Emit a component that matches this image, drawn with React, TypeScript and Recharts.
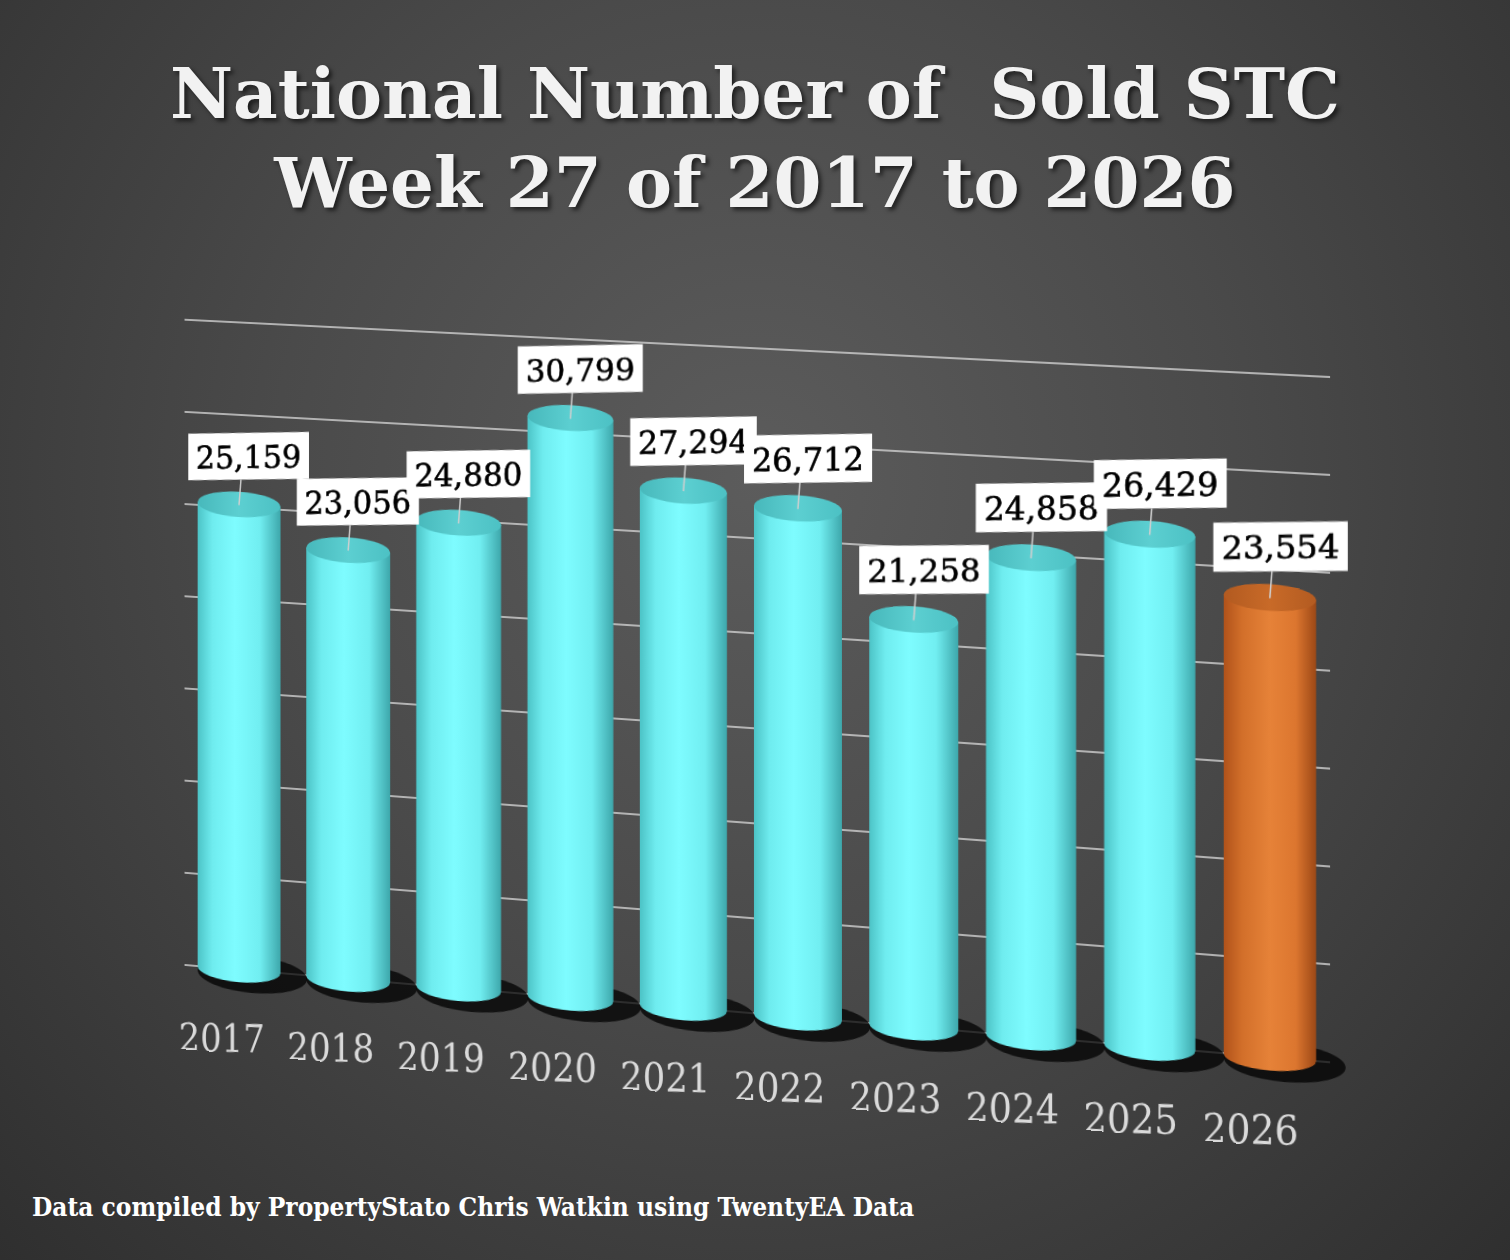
import { BarChart, Bar, XAxis, YAxis, CartesianGrid, Cell, LabelList } from "recharts";

const years = ["2017", "2018", "2019", "2020", "2021", "2022", "2023", "2024", "2025", "2026"];
const soldStc = [25159, 23056, 24880, 30799, 27294, 26712, 21258, 24858, 26429, 23554];
const highlightYear = "2026";
const yTicks = [0, 5000, 10000, 15000, 20000, 25000, 30000, 35000];

const data = years.map((year, i) => ({ year, value: soldStc[i] }));

// the whole plot is sheared and turned a little to mimic the tilted 3D view
const SKEW = 3.9;
const TURN = 6;

// undo the shear around a point so texts stay upright
const upright = (x: number, y: number) =>
  `translate(${x} ${y}) skewY(${-SKEW}) translate(${-x} ${-y})`;

const Cylinder = (props: any) => {
  const { x, y, width, height, fill } = props;
  const orange = fill === "orange";
  const rx = width / 2;
  const ry = 13;
  const cx = x + rx;
  const yb = y + height;
  return (
    <g>
      <ellipse cx={cx + 14} cy={yb + 4} rx={rx + 14} ry={ry + 6} fill="#000" opacity={0.75} />
      <path
        d={`M ${x} ${y} L ${x} ${yb} A ${rx} ${ry} 0 0 0 ${x + width} ${yb} L ${x + width} ${y} Z`}
        fill={orange ? "url(#orangeBody)" : "url(#cyanBody)"}
      />
      <ellipse cx={cx} cy={y} rx={rx} ry={ry} fill={orange ? "url(#orangeTop)" : "url(#cyanTop)"} />
    </g>
  );
};

const ValueTag = (props: any) => {
  const { x, y, width, value } = props;
  const cx = x + width / 2;
  const tx = cx + 10;
  const ty = y - 50;
  const w = 128;
  const h = 48;
  return (
    <g transform={upright(tx, ty)}>
      <line x1={cx} y1={y} x2={tx - 8} y2={ty + h / 2} stroke="#cfcfcf" strokeWidth={1.5} />
      <rect x={tx - w / 2} y={ty - h / 2} width={w} height={h} fill="#fff" />
      <text
        x={tx}
        y={ty + 12}
        textAnchor="middle"
        fontFamily="DejaVu Serif"
        fontSize={32}
        fill="#000"
        stroke="#000"
        strokeWidth={0.6}
      >
        {Number(value).toLocaleString("en-US")}
      </text>
    </g>
  );
};

const YearTick = (props: any) => {
  const { x, y, payload } = props;
  const tx = x - 18;
  const ty = y + 78;
  return (
    <g transform={upright(tx, ty)}>
      <text
        x={tx}
        y={ty}
        textAnchor="middle"
        fontFamily="DejaVu Serif Condensed, DejaVu Serif"
        fontSize={40}
        fill="#dadada"
      >
        {payload.value}
      </text>
    </g>
  );
};

const App = () => {
  return (
    <div
      style={{
        position: "absolute",
        left: 0,
        top: 0,
        width: 1510,
        height: 1260,
        overflow: "hidden",
        background: "radial-gradient(ellipse at 50% 38%, #5c5c5c 0%, #4a4a4a 45%, #2f2f2f 100%)",
      }}
    >
      <svg width={0} height={0} style={{ position: "absolute" }}>
        <defs>
          <linearGradient id="cyanBody" x1="0" y1="0" x2="1" y2="0">
            <stop offset="0%" stopColor="#4cc3c6" />
            <stop offset="18%" stopColor="#6fecef" />
            <stop offset="45%" stopColor="#7efcff" />
            <stop offset="75%" stopColor="#71eef1" />
            <stop offset="100%" stopColor="#3da7ab" />
          </linearGradient>
          <linearGradient id="cyanTop" x1="0" y1="0" x2="1" y2="0">
            <stop offset="0%" stopColor="#47b8bb" />
            <stop offset="50%" stopColor="#5ccfd1" />
            <stop offset="100%" stopColor="#4cc1c4" />
          </linearGradient>
          <linearGradient id="orangeBody" x1="0" y1="0" x2="1" y2="0">
            <stop offset="0%" stopColor="#b0521a" />
            <stop offset="20%" stopColor="#d26f2a" />
            <stop offset="50%" stopColor="#e68238" />
            <stop offset="78%" stopColor="#dc762f" />
            <stop offset="100%" stopColor="#9c4816" />
          </linearGradient>
          <linearGradient id="orangeTop" x1="0" y1="0" x2="1" y2="0">
            <stop offset="0%" stopColor="#b25a20" />
            <stop offset="50%" stopColor="#c86a28" />
            <stop offset="100%" stopColor="#b35b21" />
          </linearGradient>
        </defs>
      </svg>

      <div
        style={{
          position: "absolute",
          left: 0,
          top: 49,
          width: 1510,
          textAlign: "center",
          fontFamily: "DejaVu Serif, serif",
          fontWeight: "bold",
          fontSize: 69,
          lineHeight: "89px",
          color: "#f2f2f2",
          whiteSpace: "pre",
          textShadow: "3px 3px 4px rgba(0,0,0,0.6)",
        }}
      >
        {"National Number of  Sold STC\nWeek 27 of 2017 to 2026"}
      </div>

      <div
        style={{
          position: "absolute",
          left: 130,
          top: 300,
          width: 1240,
          height: 800,
          transform: `perspective(2000px) rotateY(${-TURN}deg) skewY(${SKEW}deg)`,
          transformOrigin: "50% 50%",
        }}
      >
        <BarChart width={1240} height={800} data={data} margin={{ top: 48, right: 54, bottom: 57, left: 34 }}>
          <CartesianGrid vertical={false} stroke="#d6d6d6" strokeWidth={1.5} />
          <XAxis dataKey="year" axisLine={false} tickLine={false} tick={<YearTick />} interval={0} />
          <YAxis hide domain={[0, 35000]} ticks={yTicks} />
          <Bar dataKey="value" barSize={88} shape={<Cylinder />} isAnimationActive={false}>
            {data.map((d) => (
              <Cell key={d.year} fill={d.year === highlightYear ? "orange" : "cyan"} />
            ))}
            <LabelList dataKey="value" content={<ValueTag />} />
          </Bar>
        </BarChart>
      </div>

      <div
        style={{
          position: "absolute",
          left: 32,
          top: 1192,
          fontFamily: "DejaVu Serif Condensed, DejaVu Serif, serif",
          fontWeight: "bold",
          fontSize: 26,
          color: "#ffffff",
          whiteSpace: "nowrap",
        }}
      >
        Data compiled by PropertyStato Chris Watkin using TwentyEA Data
      </div>
    </div>
  );
};

export default App;
